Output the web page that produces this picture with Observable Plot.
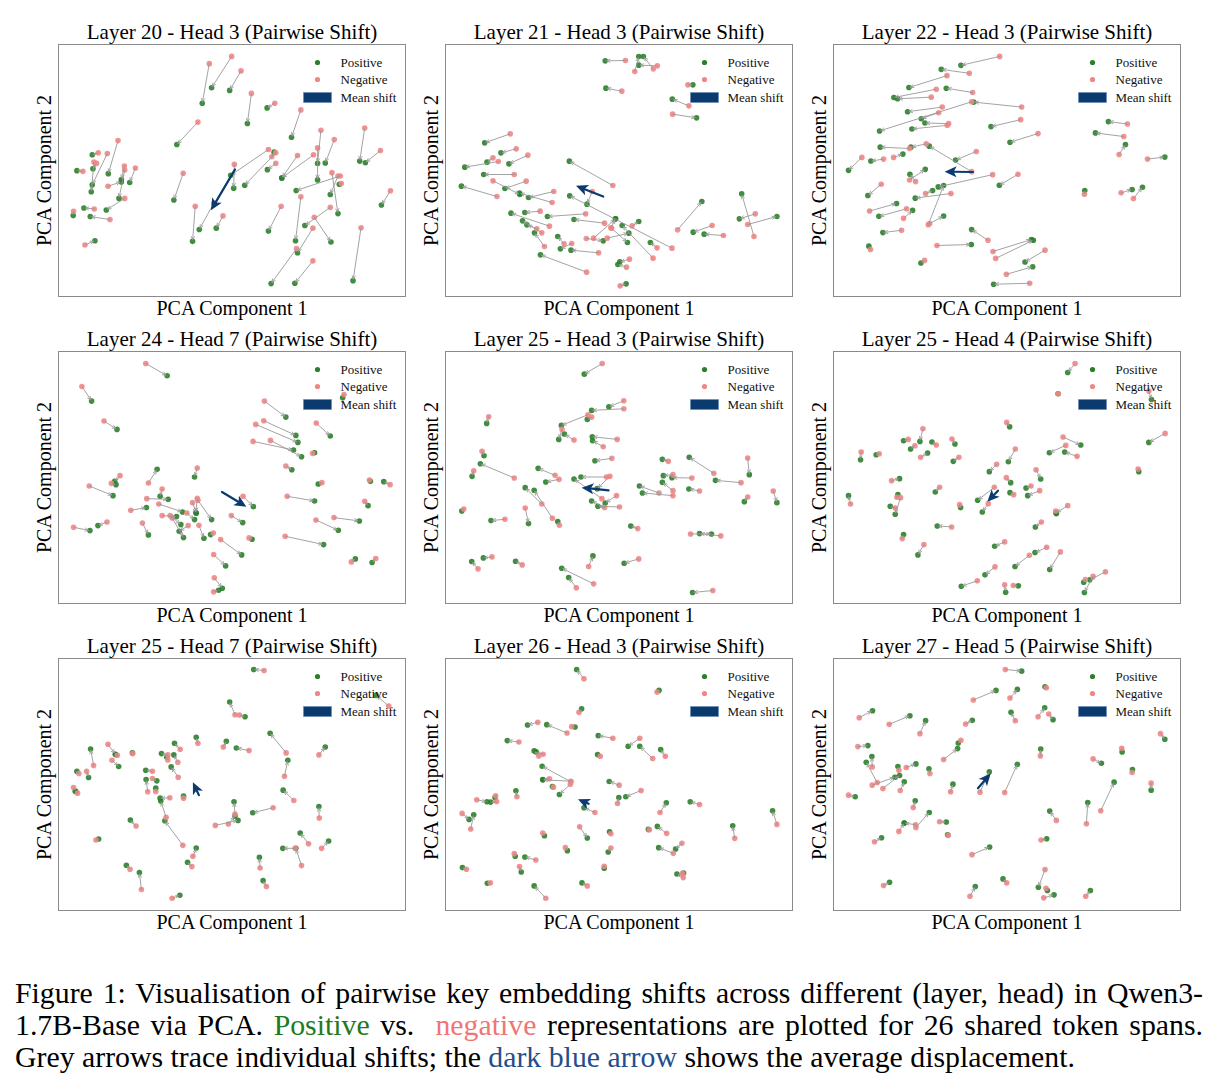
<!DOCTYPE html>
<html><head><meta charset="utf-8">
<script src="https://cdn.jsdelivr.net/npm/d3@7"></script>
<script src="https://cdn.jsdelivr.net/npm/@observablehq/plot@0.6"></script>
<style>
html,body{margin:0;padding:0;background:#fff;}
body{width:1219px;height:1089px;position:relative;overflow:hidden;font-family:"Liberation Serif","Times New Roman",serif;}
.panel{position:absolute;}
#caption{position:absolute;left:15px;top:977px;width:1188px;font-size:29.8px;line-height:32px;color:#000;}
#caption .j{text-align:justify;text-align-last:justify;white-space:nowrap;}
.pos{color:#1f7a1f;} .neg{color:#f07575;} .blue{color:#1f4f8c;}
</style></head><body>
<div id="grid"></div>
<div id="caption">
<div class="j">Figure 1: Visualisation of pairwise key embedding shifts across different (layer, head) in Qwen3-</div>
<div class="j">1.7B-Base via PCA. <span class="pos">Positive</span> vs. &nbsp;<span class="neg">negative</span> representations are plotted for 26 shared token spans.</div>
<div>Grey arrows trace individual shifts; the <span class="blue">dark blue arrow</span> shows the average displacement.</div>
</div>
<script>
// Panel titles
const titles = [
  "Layer 20 - Head 3 (Pairwise Shift)", "Layer 21 - Head 3 (Pairwise Shift)", "Layer 22 - Head 3 (Pairwise Shift)",
  "Layer 24 - Head 7 (Pairwise Shift)", "Layer 25 - Head 3 (Pairwise Shift)", "Layer 25 - Head 4 (Pairwise Shift)",
  "Layer 25 - Head 7 (Pairwise Shift)", "Layer 26 - Head 3 (Pairwise Shift)", "Layer 27 - Head 5 (Pairwise Shift)"
];
// Visible extent of each panel in PCA units: [xMin, xMax, yTop, yBottom]
const frames = [
  [12,1050,12,775],[15,1060,12,768],[12,1052,12,773],
  [12,1050,18,775],[15,1060,18,775],[12,1052,18,775],
  [12,1050,12,770],[15,1060,12,770],[12,1052,12,770]
];
// Mean shift arrows: [negX, negY, posX, posY]
const meanShift = [
  [540,390,468,514],[490,468,408,436],[430,397,345,396],
  [501,440,574,484],[506,435,425,427],[505,436,473,469],
  [432,423,414,384],[446,449,414,435],[445,402,483,358]
];
// Pairs per panel: [negX, negY, posX, posY]
const pairsL20H3 = [
  [463,70,442,190],[530,48,470,143],[558,92,524,151],[589,160,577,251],[659,190,636,204],[737,210,709,293],
  [429,247,366,315],[797,272,787,372],[787,325,787,422],[837,300,810,371],[928,265,913,365],[975,333,930,370],
  [1005,455,978,498],[917,567,893,727],[640,330,527,408],[662,340,569,438],[538,375,536,447],[650,352,657,338],
  [662,372,637,391],[727,348,680,416],[775,346,680,416],[830,400,848,524],[848,410,825,466],[858,433,852,435],
  [855,410,723,454],[737,473,721,606],[825,505,749,560],[777,535,827,610],[773,568,727,643],[724,630,648,736],
  [773,667,719,735],[678,502,640,577],[385,402,357,483],[421,502,413,608],[477,492,433,572],[504,531,484,568],
  [190,303,161,403],[131,340,113,346],[158,342,113,437],[126,372,115,388],[85,396,67,394],[209,380,200,421],
  [242,386,225,430],[210,392,193,478],[160,441,200,428],[210,478,155,513],[57,517,56,530],[119,510,88,507],
  [166,542,107,533],[91,619,121,606],[118,368,110,458]
];
const pairsL21H3 = [
  [557,60,496,61],[585,93,597,48],[641,85,611,48],[653,76,597,74],[546,152,498,143],[745,133,760,133],
  [748,196,698,176],[699,221,771,232],[210,280,133,307],[228,325,182,337],[263,344,206,370],[158,352,140,365],
  [174,363,73,380],[222,402,130,402],[158,421,239,462],[258,422,194,444],[170,468,63,437],[341,453,265,471],
  [336,486,238,458],[300,512,254,516],[437,520,322,528],[328,557,212,518],[305,577,247,541],[290,565,260,553],
  [313,618,283,577],[440,695,301,643],[372,610,353,588],[395,609,361,625],[476,637,393,629],[519,435,388,362],
  [457,453,441,491],[697,623,389,466],[640,653,547,555],[494,548,402,537],[513,562,527,535],[577,556,597,543],
  [461,593,527,535],[439,594,490,601],[502,593,567,578],[652,622,632,606],[569,656,540,664],[560,680,534,672],
  [541,736,559,730],[515,563,563,606],[714,568,787,483],[818,555,761,575],[852,585,794,581],[944,588,907,460],
  [948,520,900,535],[925,552,1013,528]
];
const pairsL22H3 = [
  [510,48,394,75],[419,99,335,87],[352,106,238,142],[429,157,350,144],[320,147,193,172],[305,171,204,176],
  [576,201,432,186],[426,185,150,273],[338,201,234,215],[327,218,275,236],[357,251,286,249],[353,256,247,267],
  [573,239,484,260],[625,281,541,307],[240,326,152,322],[290,312,244,322],[426,396,299,319],[440,335,378,361],
  [97,353,57,392],[162,358,124,364],[192,353,220,343],[240,421,287,389],[258,426,241,404],[489,405,326,442],
  [565,404,509,437],[155,434,115,468],[364,462,257,476],[288,462,309,453],[296,556,342,438],[300,553,342,530],
  [120,515,201,492],[231,508,148,531],[222,537,249,513],[216,573,160,580],[123,631,118,621],[285,664,274,672],
  [322,619,425,616],[475,603,426,571],[490,637,605,601],[498,658,611,603],[646,633,586,669],[530,706,609,683],
  [600,733,492,736],[893,252,836,245],[882,290,797,279],[868,344,887,314],[953,358,1005,352],[764,464,765,453],
  [874,460,907,450],[911,477,938,443]
];
const pairsL24H7 = [
  [273,54,337,91],[82,123,111,167],[148,227,187,252],[628,167,692,215],[626,226,722,270],[602,237,728,291],
  [594,288,715,314],[646,285,739,334],[866,147,862,157],[783,233,825,272],[772,324,778,322],[692,362,710,373],
  [800,412,789,416],[942,404,945,408],[1004,418,985,409],[928,468,938,481],[696,453,778,467],[836,517,912,527],
  [782,524,849,555],[690,573,805,598],[888,650,900,641],[961,640,950,652],[564,453,595,484],[529,511,563,532],
  [582,578,591,582],[497,583,560,629],[476,628,512,662],[478,698,502,729],[476,740,491,735],[281,413,307,372],
  [427,368,419,395],[196,391,180,408],[170,414,184,418],[104,422,175,451],[322,431,316,453],[276,460,340,462],
  [228,495,275,487],[312,476,383,500],[322,511,365,514],[346,511,378,538],[352,518,386,577],[400,541,373,558],
  [263,533,281,569],[396,503,419,523],[413,472,424,504],[427,459,423,502],[429,465,470,523],[432,540,447,579],
  [475,563,467,568],[57,546,106,556],[157,530,130,541]
];
const pairsL25H3 = [
  [487,54,433,86],[552,166,507,184],[552,190,455,195],[444,208,364,240],[455,215,442,222],[366,252,356,282],
  [402,284,373,266],[532,282,457,274],[490,304,458,286],[145,214,139,234],[125,318,131,331],[222,398,120,355],
  [100,376,95,393],[516,339,465,346],[345,390,294,369],[357,402,317,410],[500,395,423,395],[510,393,472,430],
  [486,460,402,401],[305,476,255,427],[337,519,282,435],[358,540,353,529],[255,488,265,535],[530,451,496,473],
  [494,487,455,467],[539,485,474,483],[70,491,64,497],[194,522,152,526],[686,348,668,342],[700,388,671,391],
  [757,398,697,397],[700,436,668,411],[658,443,599,422],[700,451,608,443],[823,384,749,336],[905,412,828,405],
  [780,437,748,431],[925,338,930,388],[925,455,915,469],[1002,437,1013,472],[594,550,573,542],[844,572,780,565],
  [753,566,816,566],[155,635,129,638],[113,671,94,649],[246,659,226,648],[446,664,459,632],[597,641,553,654],
  [461,716,365,669],[409,728,386,697],[820,736,759,742]
];
const pairsL25H4 = [
  [736,54,714,81],[686,145,685,145],[957,137,965,162],[531,231,540,244],[1006,264,957,291],[700,275,753,299],
  [708,300,659,322],[742,333,705,320],[925,371,927,379],[280,250,271,288],[236,282,222,286],[256,301,243,311],
  [320,299,307,290],[273,336,294,323],[367,281,376,296],[388,336,371,348],[95,320,93,343],[149,325,140,328],
  [557,311,536,349],[501,357,479,379],[619,373,633,401],[530,397,543,412],[186,406,210,400],[330,426,317,440],
  [494,426,444,465],[552,448,541,442],[604,422,589,428],[630,436,594,451],[63,476,57,451],[213,457,197,507],
  [202,456,205,448],[197,488,182,483],[390,478,393,487],[476,475,458,500],[714,481,679,503],[678,497,680,505],
  [635,530,617,545],[366,545,323,542],[218,580,222,568],[283,598,265,629],[525,590,495,603],[599,630,556,664],
  [651,606,616,622],[692,620,660,673],[496,665,466,689],[443,707,395,723],[525,719,528,741],[551,721,566,722],
  [827,680,780,704],[790,693,764,742],[767,703,762,711]
];
const pairsL25H7 = [
  [627,48,596,45],[540,181,524,143],[553,182,570,187],[1000,155,962,123],[429,267,424,249],[505,278,514,261],
  [582,289,544,281],[693,296,645,237],[791,302,810,278],[688,366,698,318],[117,334,108,284],[160,270,182,300],
  [188,303,183,301],[172,318,192,337],[234,298,233,296],[73,358,67,351],[96,351,102,370],[57,400,62,411],
  [69,417,64,412],[376,285,359,267],[339,302,320,298],[339,317,336,309],[369,324,357,302],[370,369,349,338],
  [293,351,273,348],[293,373,306,380],[279,413,274,376],[303,412,303,402],[345,431,316,432],[334,490,318,441],
  [386,432,386,426],[384,574,330,500],[716,439,684,408],[792,492,791,457],[654,461,593,476],[540,480,537,443],
  [520,510,540,486],[481,514,549,499],[244,516,227,498],[124,558,132,555],[760,569,735,537],[720,583,683,583],
  [739,635,722,583],[799,583,820,561],[414,607,424,582],[411,638,398,625],[615,642,613,610],[226,646,215,634],
  [260,707,254,656],[634,698,624,680],[352,733,375,724]
];
const pairsL26H3 = [
  [432,73,410,45],[652,113,658,108],[417,174,425,163],[293,204,262,212],[381,236,320,211],[395,217,405,218],
  [519,252,475,244],[236,263,201,259],[600,252,565,276],[639,313,600,276],[677,306,663,286],[296,305,282,290],
  [309,300,288,293],[481,306,473,301],[393,383,306,336],[328,374,308,376],[392,381,308,377],[340,399,337,397],
  [391,390,358,421],[538,393,508,382],[604,409,558,428],[533,448,537,430],[230,428,227,410],[166,425,164,430],
  [109,437,140,443],[169,442,151,444],[465,475,432,461],[661,475,680,446],[780,451,752,443],[65,478,86,496],
  [91,525,100,482],[1013,511,1000,470],[886,553,880,515],[419,518,442,552],[513,539,509,533],[308,537,313,545],
  [629,527,626,526],[681,538,653,517],[727,568,708,585],[701,598,657,581],[376,581,382,590],[513,582,505,594],
  [222,599,225,607],[287,618,254,609],[238,638,243,654],[493,637,493,643],[78,646,66,641],[150,687,141,688],
  [442,696,426,687],[731,671,712,660],[729,658,732,657],[317,733,282,696]
];
const pairsL27H5 = [
  [527,45,576,50],[431,137,499,108],[541,131,563,105],[650,100,646,97],[89,190,129,169],[179,210,241,184],
  [271,238,288,199],[408,209,428,198],[557,199,544,174],[625,187,645,160],[657,179,670,196],[992,238,1005,255],
  [85,277,115,274],[394,258,386,266],[342,316,384,283],[632,305,633,284],[876,282,877,293],[790,314,815,327],
  [907,355,908,346],[128,338,127,307],[143,385,110,324],[128,393,196,369],[160,403,210,364],[208,348,205,337],
  [230,340,259,329],[301,358,298,344],[212,409,224,383],[57,423,77,428],[363,413,370,390],[451,414,479,353],
  [525,415,563,330],[964,387,964,408],[813,470,853,384],[770,509,774,445],[251,460,257,440],[680,499,660,471],
  [208,532,224,507],[259,520,299,475],[258,512,224,507],[330,503,350,504],[356,544,354,542],[135,563,156,551],
  [634,558,651,554],[427,602,480,579],[646,647,626,700],[162,695,180,685],[531,687,520,675],[421,727,437,698],
  [649,703,653,710],[642,732,673,723],[768,727,782,710]
];
const panels = [pairsL20H3, pairsL21H3, pairsL22H3, pairsL24H7, pairsL25H3, pairsL25H4, pairsL25H7, pairsL26H3, pairsL27H5];
const legendLabels = ["Positive", "Negative", "Mean shift"];

const POS = "#2b7f2b", NEG = "#f28686", GREY = "#999999", MEAN = "#0b3a6e";
const rectSymbol = {draw(ctx){ ctx.moveTo(-14,-5); ctx.lineTo(14,-5); ctx.lineTo(14,5); ctx.lineTo(-14,5); ctx.closePath(); }};
// filled arrowhead, tip at origin pointing up
const headSymbol = {draw(ctx){ ctx.moveTo(0,0); ctx.lineTo(5.5,12); ctx.lineTo(0,9); ctx.lineTo(-5.5,12); ctx.closePath(); }};
const font = "Liberation Serif, Times New Roman, serif";

const W = 387, H = 307, ML = 30, MR = 10, MT = 30, MB = 25;
const colLeft = [28, 415, 803], rowTop = [14, 321, 628];
const grid = document.getElementById("grid");

panels.forEach((pairs, i) => {
  const [x0, x1, y0, y1] = frames[i];
  const sx = (W - ML - MR) / (x1 - x0), sy = (H - MT - MB) / (y1 - y0);
  const m = meanShift[i];
  const angle = Math.atan2((m[2] - m[0]) * sx, -(m[3] - m[1]) * sy) * 180 / Math.PI;
  const chart = Plot.plot({
    width: W, height: H,
    marginLeft: ML, marginRight: MR, marginTop: MT, marginBottom: MB,
    style: {fontFamily: font, background: "transparent", overflow: "visible"},
    x: {domain: [x0, x1], axis: null},
    y: {domain: [y0, y1], reverse: true, axis: null},
    marks: [
      Plot.frame({stroke: "#8a8a8a", strokeWidth: 1}),
      Plot.dot(pairs, {x: d => d[2], y: d => d[3], r: 2.8, fill: POS, fillOpacity: 0.9}),
      Plot.dot(pairs, {x: d => d[0], y: d => d[1], r: 2.8, fill: NEG, fillOpacity: 0.9}),
      Plot.arrow(pairs, {x1: d => d[0], y1: d => d[1], x2: d => d[2], y2: d => d[3],
        stroke: GREY, strokeWidth: 0.9, headLength: 6, headAngle: 50, insetEnd: 1.5}),
      // mean shift: shaft + filled head
      Plot.arrow([m], {x1: d => d[0], y1: d => d[1], x2: d => d[2], y2: d => d[3],
        stroke: MEAN, strokeWidth: 2.2, headLength: 0, insetEnd: 8}),
      Plot.dot([m], {x: d => d[2], y: d => d[3], symbol: headSymbol, r: 5, rotate: angle, fill: MEAN, stroke: "none"}),
      // legend
      Plot.dot([0], {frameAnchor: "top-right", dx: -88, dy: 18, r: 2.6, fill: POS}),
      Plot.dot([0], {frameAnchor: "top-right", dx: -88, dy: 35, r: 2.6, fill: NEG}),
      Plot.dot([0], {frameAnchor: "top-right", dx: -88, dy: 53, r: 5, symbol: rectSymbol, fill: MEAN, stroke: "#6f8fb8", strokeWidth: 0.8}),
      Plot.text([legendLabels[0]], {frameAnchor: "top-right", dx: -65, dy: 18, textAnchor: "start", lineAnchor: "middle", fontSize: 13, fill: "#111"}),
      Plot.text([legendLabels[1]], {frameAnchor: "top-right", dx: -65, dy: 35, textAnchor: "start", lineAnchor: "middle", fontSize: 13, fill: "#111"}),
      Plot.text([legendLabels[2]], {frameAnchor: "top-right", dx: -65, dy: 53, textAnchor: "start", lineAnchor: "middle", fontSize: 13, fill: "#111"}),
      // title and axis labels
      Plot.text([titles[i]], {frameAnchor: "top", dy: -12, fontSize: 21, fill: "#000", lineAnchor: "middle"}),
      Plot.text(["PCA Component 1"], {frameAnchor: "bottom", dy: 12, fontSize: 20, fill: "#000", lineAnchor: "middle"}),
      Plot.text(["PCA Component 2"], {frameAnchor: "left", dx: -14, rotate: -90, fontSize: 20, fill: "#000", textAnchor: "middle", lineAnchor: "middle"})
    ]
  });
  const div = document.createElement("div");
  div.className = "panel";
  div.style.left = colLeft[i % 3] + "px";
  div.style.top = rowTop[Math.floor(i / 3)] + "px";
  div.appendChild(chart);
  grid.appendChild(div);
});
</script>
</body></html>
